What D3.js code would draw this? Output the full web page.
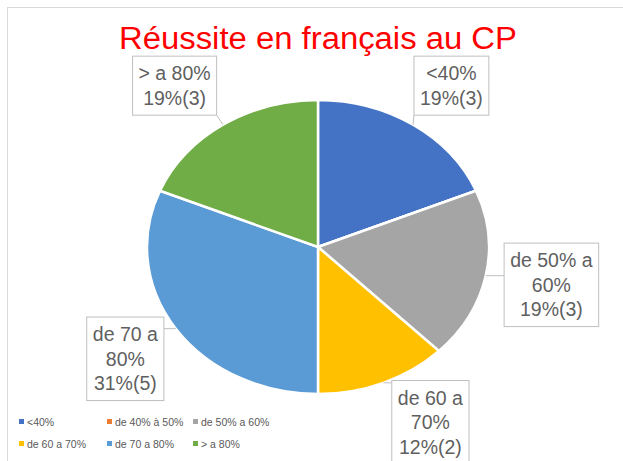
<!DOCTYPE html>
<html>
<head>
<meta charset="utf-8">
<script src="https://cdn.jsdelivr.net/npm/d3@7"></script>
<style>
  body { margin: 0; background: #fff; }
  svg { display: block; font-family: "Liberation Sans", Arial, sans-serif; }
</style>
</head>
<body>
<svg id="chart" width="623" height="461"></svg>
<script>
// data
const categories = ["<40%", "de 40% à 50%", "de 50% a 60%", "de 60 a 70%", "de 70 a 80%", "> a 80%"];
const counts = [3, 0, 3, 2, 5, 3];
const percents = ["19%", "0%", "19%", "12%", "31%", "19%"];
const labelLines = [
  ["<40%"],
  [],
  ["de 50% a", "60%"],
  ["de 60 a", "70%"],
  ["de 70 a", "80%"],
  ["> a 80%"]
];
const colors = ["#4472C4", "#ED7D31", "#A5A5A5", "#FFC000", "#5B9BD5", "#70AD47"];

const width = 623, height = 461;
const cx = 318, cy = 247;
const ry = 147, sx = 171 / 147;   // pie is stretched horizontally in the reference
const labelK = 1.32;
const labelNudge = [8, 0, 12, 26, -5, -18];
const labelNudgeY = [0, 0, 0, -4, 4, 0];

const svg = d3.select("#chart");

// chart area border
svg.append("rect")
  .attr("x", 7.5).attr("y", 7.5)
  .attr("width", width + 20).attr("height", height + 20)
  .attr("fill", "#fff").attr("stroke", "#d9d9d9");

// title
svg.append("text")
  .attr("x", 318).attr("y", 49)
  .attr("text-anchor", "middle")
  .attr("font-size", 31)
  .attr("fill", "#ff0000")
  .attr("textLength", 398)
  .attr("lengthAdjust", "spacingAndGlyphs")
  .text("Réussite en français au CP");

const pie = d3.pie().sort(null).value(d => d);
const arcs = pie(counts);
const arc = d3.arc().innerRadius(0).outerRadius(ry);

const pieG = svg.append("g")
  .attr("transform", `translate(${cx},${cy}) scale(${sx},1)`);

pieG.selectAll("path")
  .data(arcs)
  .enter()
  .append("path")
  .attr("d", arc)
  .attr("fill", (d, i) => colors[i])
  .attr("stroke", "#fff")
  .attr("stroke-width", 2.5)
  .attr("vector-effect", "non-scaling-stroke");

// data labels with callouts
const lineH = 24.5, fs = 19.5, padX = 6, padY = 6;
const labelG = svg.append("g");

arcs.forEach((d, i) => {
  if (d.data === 0) return;
  const mid = (d.startAngle + d.endAngle) / 2;
  const lx = cx + Math.sin(mid) * ry * sx * labelK + labelNudge[i];
  const ly = cy - Math.cos(mid) * ry * labelK + labelNudgeY[i];
  const ex = cx + Math.sin(mid) * ry * sx;
  const ey = cy - Math.cos(mid) * ry;

  const lines = labelLines[i].concat([`${percents[i]}(${counts[i]})`]);
  const g = labelG.append("g");
  const t = g.append("text")
    .attr("font-size", fs)
    .attr("fill", "#5f5f5f")
    .attr("text-anchor", "middle");
  lines.forEach((s, j) => {
    t.append("tspan")
      .attr("x", lx)
      .attr("y", ly - (lines.length - 1) * lineH / 2 + j * lineH + fs * 0.35)
      .text(s);
  });
  const bb = t.node().getBBox();
  const bw = bb.width + 2 * padX;
  const bh = lines.length * lineH + 2 * padY - 2;
  const bx = lx - bw / 2, by = ly - bh / 2;

  // callout from box to slice edge
  const px = Math.max(bx, Math.min(bx + bw, ex));
  const py = Math.max(by, Math.min(by + bh, ey));
  g.insert("line", "text")
    .attr("x1", px).attr("y1", py)
    .attr("x2", ex).attr("y2", ey)
    .attr("stroke", "#bfbfbf").attr("stroke-width", 1);
  g.insert("rect", "text")
    .attr("x", bx).attr("y", by)
    .attr("width", bw).attr("height", bh)
    .attr("fill", "#fff")
    .attr("stroke", "#bfbfbf").attr("stroke-width", 1);
});

// legend
const legX = d3.scalePoint().domain([0, 1, 2]).range([19, 193]);
const legY = d3.scalePoint().domain([0, 1]).range([422, 444]);
const legend = svg.append("g").attr("font-size", 10.5).attr("fill", "#595959");
categories.forEach((c, i) => {
  const col = i % 3, row = Math.floor(i / 3);
  const x = legX(col) - (col === 1 ? -1 : 0), y = legY(row);
  legend.append("rect")
    .attr("x", x).attr("y", y - 3)
    .attr("width", 5).attr("height", 5)
    .attr("fill", colors[i]);
  legend.append("text")
    .attr("x", x + 8).attr("y", y + 3.5)
    .text(c);
});
</script>
</body>
</html>
